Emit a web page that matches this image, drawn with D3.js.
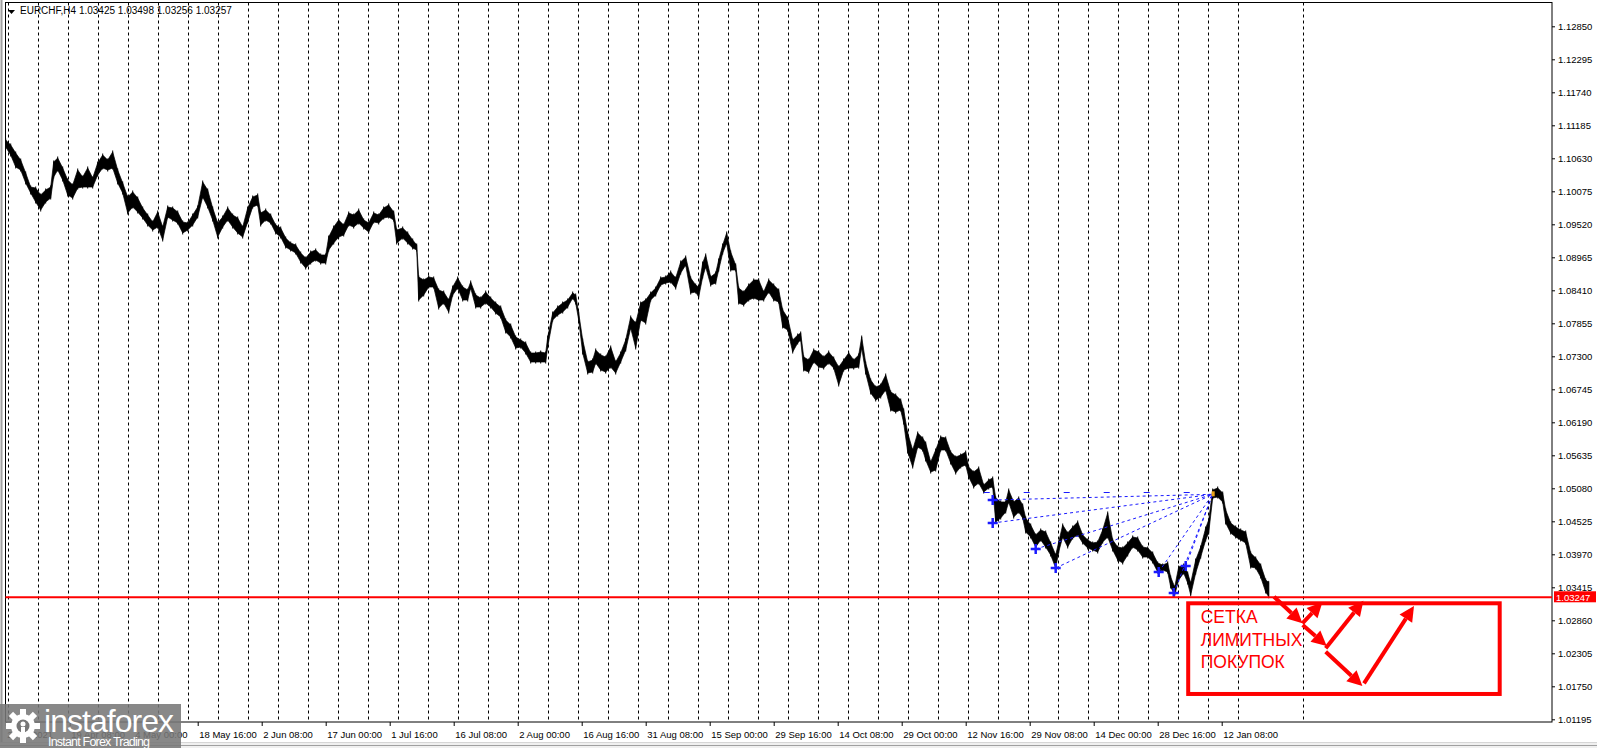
<!DOCTYPE html>
<html><head><meta charset="utf-8">
<script src="https://cdn.jsdelivr.net/npm/d3@7/dist/d3.min.js"></script>
<style>
html,body{margin:0;padding:0;background:#fff;overflow:hidden;}
svg{display:block;}
text{font-family:"Liberation Sans",Arial,sans-serif;}
</style></head><body>
<svg id="c" width="1597" height="748"></svg>
<script>
// ---------- DATA ----------
const title = "EURCHF,H4  1.03425 1.03498 1.03256 1.03257";
// bar index (H4 bars from 2 Apr 2021) of each sampled price range
const barIdx = [0,5,10,15,20,25,30,35,40,45,48,52,57,62,67,72,77,82,87,92,97,102,107,112,117,122,127,132,137,142,147,152,157,162,167,172,177,182,187,192,197,202,207,212,217,222,227,232,237,242,247,252,255,260,265,270,275,280,285,290,295,300,305,310,315,320,323,328,333,338,343,348,353,358,363,368,373,378,383,388,391,397,402,407,411,413,418,423,428,433,438,443,447,452,457,462,465,470,475,480,485,490,495,500,505,510,515,520,525,530,535,540,542,547,552,557,562,567,570,573,577,582,587,590,595,600,605,610,615,620,625,630,635,640,645,650,655,660,665,670,675,680,685,690,693,697,700,705,710,713,717,721,725,730,733,738,743,748,753,758,763,768,773,777,782,787,792,795,798,803,808,813,818,823,828,833,838,843,848,853,856,860,865,870,875,880,885,890,895,898,902,907,912,917,920,925,930,935,940,945,950,955,960,963,968,973,978,983,987,990,995,1000,1003,1008,1013,1017,1020,1025,1030,1035,1040,1045,1050,1053,1057,1062,1067,1072,1077,1082,1087,1092,1097,1102,1107,1112,1117,1122,1127,1132,1137,1142,1147,1152,1157,1162,1165,1169,1173,1178,1182,1185,1190,1195,1200,1203,1207,1212,1217,1220,1225,1230,1235,1240,1245,1250,1255,1260,1263];
const highs = [1.10938,1.10854,1.10719,1.10601,1.10383,1.10147,1.10130,1.10013,1.10097,1.10147,1.10568,1.10635,1.10467,1.10265,1.10181,1.10433,1.10315,1.10467,1.10299,1.10551,1.10685,1.10601,1.10736,1.10433,1.10215,1.09979,1.10063,1.09962,1.09794,1.09676,1.09559,1.09727,1.09474,1.09811,1.09794,1.09727,1.09559,1.09542,1.09676,1.09811,1.10231,1.10097,1.09794,1.09542,1.09643,1.09794,1.09676,1.09626,1.09474,1.09794,1.09979,1.10013,1.09710,1.09760,1.09676,1.09508,1.09458,1.09289,1.09205,1.09172,1.09037,1.08953,1.09054,1.09088,1.09004,1.09004,1.09306,1.09474,1.09592,1.09508,1.09710,1.09676,1.09760,1.09592,1.09542,1.09710,1.09676,1.09794,1.09845,1.09727,1.09424,1.09458,1.09374,1.09256,1.09172,1.08634,1.08583,1.08634,1.08617,1.08415,1.08381,1.08247,1.08465,1.08617,1.08465,1.08415,1.08550,1.08331,1.08280,1.08381,1.08280,1.08196,1.08129,1.07910,1.07826,1.07624,1.07574,1.07524,1.07355,1.07355,1.07372,1.07355,1.07624,1.08028,1.08129,1.08196,1.08247,1.08364,1.08331,1.08028,1.07574,1.07204,1.07238,1.07406,1.07322,1.07288,1.07456,1.07204,1.07355,1.07574,1.07961,1.07860,1.08196,1.08247,1.08364,1.08448,1.08617,1.08634,1.08718,1.08617,1.08886,1.08970,1.08617,1.08499,1.08465,1.08869,1.09004,1.08634,1.08701,1.08920,1.09172,1.09374,1.09054,1.08835,1.08448,1.08381,1.08499,1.08583,1.08583,1.08381,1.08583,1.08499,1.08415,1.08079,1.07944,1.07574,1.07658,1.07692,1.07288,1.07238,1.07406,1.07372,1.07288,1.07372,1.07271,1.07120,1.07238,1.07355,1.07238,1.07322,1.07624,1.07187,1.06901,1.06784,1.06817,1.06985,1.06700,1.06649,1.06565,1.06397,1.06010,1.05724,1.06010,1.05926,1.05842,1.05522,1.05724,1.05943,1.05926,1.05690,1.05606,1.05640,1.05690,1.05438,1.05354,1.05421,1.05135,1.05219,1.05253,1.04917,1.04850,1.04850,1.05051,1.04850,1.04917,1.04799,1.04580,1.04463,1.04295,1.04379,1.04345,1.04160,1.03958,1.04177,1.04463,1.04328,1.04429,1.04513,1.04295,1.04210,1.04160,1.04177,1.04379,1.04665,1.04210,1.04093,1.04076,1.04160,1.04261,1.04244,1.04093,1.04076,1.03992,1.03824,1.03790,1.03824,1.03588,1.03420,1.03756,1.03790,1.03655,1.03487,1.03874,1.04093,1.04412,1.04547,1.05051,1.05085,1.05001,1.04715,1.04496,1.04429,1.04379,1.04345,1.03992,1.03908,1.03790,1.03538,1.03498];
const lows = [1.10820,1.10685,1.10484,1.10433,1.10215,1.10046,1.09895,1.09760,1.09895,1.09962,1.10315,1.10433,1.10265,1.10013,1.09962,1.10130,1.10147,1.10147,1.10147,1.10349,1.10467,1.10433,1.10467,1.10215,1.10046,1.09710,1.09811,1.09727,1.09626,1.09508,1.09424,1.09474,1.09256,1.09643,1.09592,1.09542,1.09374,1.09424,1.09508,1.09643,1.09979,1.09811,1.09592,1.09306,1.09474,1.09592,1.09474,1.09374,1.09306,1.09559,1.09811,1.09845,1.09508,1.09592,1.09542,1.09374,1.09306,1.09138,1.09088,1.09037,1.08886,1.08785,1.08869,1.08920,1.08869,1.08869,1.09088,1.09205,1.09306,1.09340,1.09508,1.09474,1.09542,1.09458,1.09390,1.09559,1.09542,1.09626,1.09643,1.09592,1.09205,1.09289,1.09205,1.09121,1.09088,1.08247,1.08331,1.08465,1.08465,1.08112,1.08196,1.08045,1.08331,1.08448,1.08247,1.08247,1.08448,1.08129,1.08129,1.08196,1.08129,1.08028,1.07961,1.07709,1.07624,1.07440,1.07456,1.07355,1.07204,1.07204,1.07204,1.07204,1.07456,1.07910,1.07994,1.08045,1.08129,1.08280,1.08196,1.07910,1.07355,1.07019,1.07036,1.07187,1.07070,1.07036,1.07120,1.07019,1.07204,1.07406,1.07776,1.07440,1.07910,1.07860,1.08247,1.08331,1.08499,1.08533,1.08550,1.08448,1.08701,1.08835,1.08364,1.08381,1.08297,1.08634,1.08802,1.08499,1.08533,1.08751,1.09037,1.09205,1.08751,1.08751,1.08196,1.08163,1.08247,1.08280,1.08247,1.08247,1.08381,1.08247,1.08213,1.07793,1.07742,1.07372,1.07524,1.07574,1.07070,1.07036,1.07204,1.07120,1.07103,1.07187,1.07103,1.06817,1.07070,1.07103,1.07103,1.07120,1.07440,1.07019,1.06683,1.06565,1.06615,1.06733,1.06397,1.06363,1.06397,1.06178,1.05690,1.05438,1.05775,1.05724,1.05556,1.05354,1.05388,1.05724,1.05724,1.05505,1.05337,1.05438,1.05472,1.05270,1.05102,1.05169,1.05018,1.05085,1.05102,1.04513,1.04580,1.04681,1.04850,1.04597,1.04681,1.04580,1.04345,1.04261,1.04093,1.04210,1.04093,1.03958,1.03740,1.04009,1.04261,1.04093,1.04244,1.04295,1.04160,1.04076,1.04042,1.04009,1.04177,1.04261,1.04042,1.03874,1.03824,1.03958,1.04093,1.04042,1.03924,1.03924,1.03840,1.03672,1.03706,1.03672,1.03420,1.03286,1.03538,1.03655,1.03487,1.03286,1.03655,1.03924,1.04210,1.04328,1.04917,1.04934,1.04850,1.04496,1.04328,1.04261,1.04210,1.04160,1.03756,1.03740,1.03588,1.03336,1.03256];

// price axis labels
const priceTicks = ["1.12850","1.12295","1.11740","1.11185","1.10630","1.10075","1.09520","1.08965","1.08410","1.07855","1.07300","1.06745","1.06190","1.05635","1.05080","1.04525","1.03970","1.03415","1.02860","1.02305","1.01750","1.01195"];
// time axis labels (one every 64 H4 bars)
const timeLabels = ["2 Apr 2021","19 Apr 08:00","4 May 00:00","18 May 16:00","2 Jun 08:00","17 Jun 00:00","1 Jul 16:00","16 Jul 08:00","2 Aug 00:00","16 Aug 16:00","31 Aug 08:00","15 Sep 00:00","29 Sep 16:00","14 Oct 08:00","29 Oct 00:00","12 Nov 16:00","29 Nov 08:00","14 Dec 00:00","28 Dec 16:00","12 Jan 08:00"];
const barsPerLabel = 64;
// weekly separators (bar index of each Monday 00:00), plus one in the future area
const weekBars = d3.range(42).map(k => 2 + 30 * k).concat([1297]);

// horizontal level line
const levelPrice = 1.03247;
const levelLabel = "1.03247";

// blue fan: anchor points (bar, price) and apex
const fanPoints = [[987,1.04883],[987,1.04496],[1030,1.04059],[1050,1.03740],[1153,1.03672],[1168,1.03319],[1180,1.03773]];
const fanApex = [1207,1.04979];
const fanTop = [[978,1.05009],[1207,1.05009]];

// red annotation box and arrows
const boxCorners = [[1182.5,1.03146],[1494,1.01621]];
const boxText = ["СЕТКА","ЛИМИТНЫХ","ПОКУПОК"];
const arrows = [
  [[1268.3,1.03257],[1296.7,1.02810]],
  [[1296.7,1.02810],[1316.7,1.03163]],
  [[1297,1.02781],[1321,1.02428]],
  [[1320,1.02389],[1357.7,1.03190]],
  [[1320,1.02332],[1356.7,1.01755]],
  [[1358.3,1.01800],[1408.3,1.03101]]
];

// ---------- CHART ----------
const svg = d3.select("#c");
const W = 1597, H = 748;
const plotL = 5.5, plotR = 1552, plotT = 2.5, plotB = 722;

const x = d3.scaleLinear().domain([0, 1546]).range([5.7, 1551.7]);
const y = d3.scaleLinear().domain([1.01195, 1.12850]).range([719.3, 26.3]);

svg.append("rect").attr("width", W).attr("height", H).attr("fill", "#fff");

// window chrome bits
svg.append("line").attr("x1",1.5).attr("x2",1.5).attr("y1",0).attr("y2",742).attr("stroke","#a0a0a0").attr("stroke-width",2);
svg.append("rect").attr("x",0).attr("y",742).attr("width",W).attr("height",6).attr("fill","#f0f0f0");
svg.append("line").attr("x1",0).attr("x2",W).attr("y1",742.5).attr("y2",742.5).attr("stroke","#d6d6d6");
svg.append("line").attr("x1",0).attr("x2",W).attr("y1",745.5).attr("y2",745.5).attr("stroke","#a0a0a0");

// weekly dashed grid
svg.append("g").selectAll("line").data(weekBars).join("line")
  .attr("x1", d => Math.round(x(d)) + 0.5).attr("x2", d => Math.round(x(d)) + 0.5)
  .attr("y1", plotT).attr("y2", plotB)
  .attr("stroke", "#000").attr("stroke-width", 1).attr("stroke-dasharray", "3,3");

// frame
svg.append("rect").attr("x", plotL).attr("y", plotT).attr("width", plotR - plotL).attr("height", plotB - plotT)
  .attr("fill", "none").attr("stroke", "#000").attr("stroke-width", 1);

// price series
const bars = barIdx.map((b, i) => ({b, hi: highs[i], lo: lows[i]}));
const area = d3.area().x(d => x(d.b)).y0(d => y(d.lo)).y1(d => y(d.hi));
svg.append("path").datum(bars).attr("d", area).attr("fill", "#000").attr("stroke", "#000").attr("stroke-width", 0.7);
svg.append("g").selectAll("line").data(bars).join("line")
  .attr("x1", d => x(d.b)).attr("x2", d => x(d.b))
  .attr("y1", d => y(d.hi) - 1.5).attr("y2", d => y(d.lo) + 1.5)
  .attr("stroke", "#000").attr("stroke-width", 1);

// blue fan
const blue = "#1a1aff";
const fg = svg.append("g");
fg.selectAll("line.f").data(fanPoints).join("line")
  .attr("x1", d => x(d[0])).attr("y1", d => y(d[1]))
  .attr("x2", x(fanApex[0])).attr("y2", y(fanApex[1]))
  .attr("stroke", blue).attr("stroke-width", 1).attr("stroke-dasharray", "3,3");
fg.append("line").attr("x1", x(fanTop[0][0])).attr("y1", y(fanTop[0][1]))
  .attr("x2", x(fanTop[1][0])).attr("y2", y(fanTop[1][1]))
  .attr("stroke", blue).attr("stroke-width", 1.2).attr("stroke-dasharray", "6,34");
fg.selectAll("path.m").data(fanPoints).join("path")
  .attr("d", d => { const cx = x(d[0]), cy = y(d[1]); return `M${cx-5},${cy}H${cx+5}M${cx},${cy-5}V${cy+5}`; })
  .attr("stroke", blue).attr("stroke-width", 2.5);
fg.append("rect").attr("x", x(fanApex[0]) - 1).attr("y", y(fanApex[1]) - 3).attr("width", 3).attr("height", 5).attr("fill", "#e8a317");

// level line
svg.append("line").attr("x1", plotL).attr("x2", plotR).attr("y1", y(levelPrice)).attr("y2", y(levelPrice))
  .attr("stroke", "#ff0000").attr("stroke-width", 2);

// y axis
const yAxis = d3.axisRight(y).tickValues(priceTicks.map(Number)).tickFormat((d, i) => priceTicks[i]).tickSize(3).tickPadding(3);
const ga = svg.append("g").attr("transform", `translate(${plotR},0)`).call(yAxis);
ga.select(".domain").remove();
ga.selectAll("line").attr("stroke", "#000");
ga.selectAll("text").attr("font-size", 9.5).attr("fill", "#000").attr("font-family", '"Liberation Sans",Arial,sans-serif');

// level label
svg.append("rect").attr("x", plotR + 2).attr("y", y(levelPrice) - 6).attr("width", 42).attr("height", 11).attr("fill", "#ff0000");
svg.append("text").attr("x", plotR + 4).attr("y", y(levelPrice) + 3.5).attr("font-size", 9.5).attr("fill", "#fff").text(levelLabel);

// x axis
const labelBars = timeLabels.map((t, i) => i * barsPerLabel);
const xAxis = d3.axisBottom(x).tickValues(labelBars).tickFormat((d, i) => timeLabels[i]).tickSize(4).tickPadding(5);
const gx = svg.append("g").attr("transform", `translate(0,${plotB})`).call(xAxis);
gx.select(".domain").remove();
gx.selectAll("line").attr("stroke", "#000");
gx.selectAll("text").attr("font-size", 9.5).attr("fill", "#000").attr("text-anchor", "start").attr("dx", 1)
  .attr("font-family", '"Liberation Sans",Arial,sans-serif');

// title
svg.append("path").attr("d", "M8,10 L15,10 L11.5,14 Z").attr("fill", "#000");
svg.append("text").attr("x", 20).attr("y", 14).attr("font-size", 10).attr("fill", "#000").text(title);

// red box annotation
const red = "#ff0000";
const bx0 = x(boxCorners[0][0]), by0 = y(boxCorners[0][1]), bx1 = x(boxCorners[1][0]), by1 = y(boxCorners[1][1]);
svg.append("rect").attr("x", bx0).attr("y", by0).attr("width", bx1 - bx0).attr("height", by1 - by0)
  .attr("fill", "none").attr("stroke", red).attr("stroke-width", 4);
svg.append("g").selectAll("text").data(boxText).join("text")
  .attr("x", bx0 + 12.5).attr("y", (d, i) => by0 + 19.5 + i * 22.8)
  .attr("font-size", 17.5).attr("fill", red).text(d => d);

const ag = svg.append("g");
arrows.forEach(a => {
  const x1 = x(a[0][0]), y1 = y(a[0][1]), x2 = x(a[1][0]), y2 = y(a[1][1]);
  const ang = Math.atan2(y2 - y1, x2 - x1);
  const L = 15, Wd = 7.5;
  const bxp = x2 - L * Math.cos(ang), byp = y2 - L * Math.sin(ang);
  ag.append("line").attr("x1", x1).attr("y1", y1).attr("x2", bxp).attr("y2", byp)
    .attr("stroke", red).attr("stroke-width", 4);
  const p1 = [bxp + Wd * Math.sin(ang), byp - Wd * Math.cos(ang)];
  const p2 = [bxp - Wd * Math.sin(ang), byp + Wd * Math.cos(ang)];
  ag.append("path").attr("d", `M${x2},${y2}L${p1[0]},${p1[1]}L${p2[0]},${p2[1]}Z`).attr("fill", red);
});

// watermark logo
const lg = svg.append("g");
lg.append("rect").attr("x", 0).attr("y", 704).attr("width", 181).attr("height", 44).attr("fill", "#777").attr("opacity", 0.88);
const gcx = 23, gcy = 726;
d3.range(8).forEach(k => {
  lg.append("rect").attr("x", gcx - 3).attr("y", gcy - 17).attr("width", 6).attr("height", 8).attr("fill", "#fff")
    .attr("transform", `rotate(${k * 45},${gcx},${gcy})`);
});
lg.append("circle").attr("cx", gcx).attr("cy", gcy).attr("r", 12).attr("fill", "#fff");
lg.append("circle").attr("cx", gcx).attr("cy", gcy).attr("r", 6.5).attr("fill", "#777");
lg.append("circle").attr("cx", gcx).attr("cy", gcy - 2).attr("r", 2.5).attr("fill", "#fff");
lg.append("rect").attr("x", gcx - 2).attr("y", gcy + 1).attr("width", 4).attr("height", 11).attr("fill", "#fff");
lg.append("text").attr("x", 44).attr("y", 732).attr("font-size", 32).attr("fill", "#fff")
  .attr("font-family", '"Open Sans","Liberation Sans",Arial,sans-serif').attr("textLength", 130).text("instaforex");
lg.append("text").attr("x", 48).attr("y", 746).attr("font-size", 12.5).attr("fill", "#fff")
  .attr("textLength", 102).text("Instant Forex Trading");
</script>
</body></html>
